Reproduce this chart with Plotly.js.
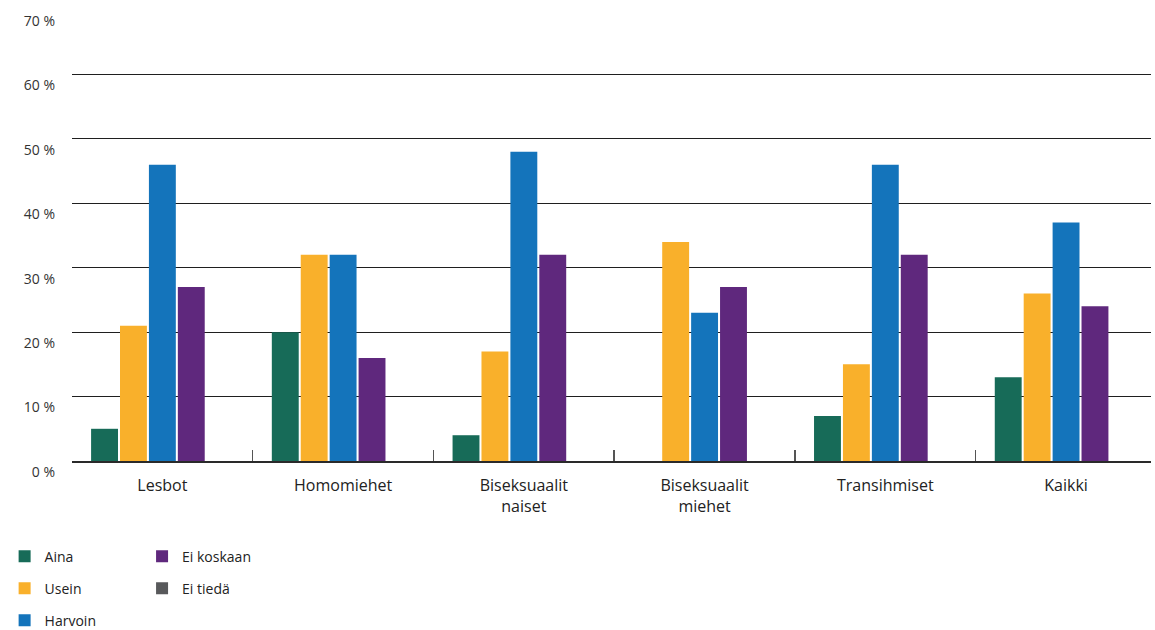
<!DOCTYPE html>
<html>
<head>
<meta charset="utf-8">
<script src="https://cdn.plot.ly/plotly-3.0.1.min.js"></script>
<style>html,body{margin:0;padding:0;background:#fff;}#chart{width:1155px;height:630px;}</style>
</head>
<body>
<div id="chart"></div>
<script>
const categories = ["Lesbot", "Homomiehet", "Biseksuaalit<br>naiset", "Biseksuaalit<br>miehet", "Transihmiset", "Kaikki"];
const seriesNames = ["Aina", "Usein", "Harvoin", "Ei koskaan", "Ei tiedä"];
const aina      = [5, 20, 4, 0, 7, 13];
const usein     = [21, 32, 17, 34, 15, 26];
const harvoin   = [46, 32, 48, 23, 46, 37];
const eiKoskaan = [27, 16, 32, 27, 32, 24];
const eiTieda   = [0, 0, 0, 0, 0, 0];
const yTickVals = [0, 10, 20, 30, 40, 50, 60, 70];
const yTickText = ["0 %", "10 %", "20 %", "30 %", "40 %", "50 %", "60 %", "70 %"];

const colors = ["#176b58", "#f9b02b", "#1474bb", "#5f287d", "#58595b"];
const values = [aina, usein, harvoin, eiKoskaan, eiTieda];
const legendOf = ["legend", "legend", "legend", "legend2", "legend2"];

const traces = seriesNames.map((name, i) => ({
  type: "bar",
  name: name,
  x: categories,
  y: values[i],
  marker: {color: colors[i]},
  legend: legendOf[i],
  legendgroup: "g" + i,
  hoverinfo: "name+y"
}));

const font = {family: "Open Sans, sans-serif", color: "#333333"};

const layout = {
  width: 1155,
  height: 630,
  margin: {l: 72, r: 4, t: 9.5, b: 169, autoexpand: false},
  paper_bgcolor: "#ffffff",
  plot_bgcolor: "#ffffff",
  font: font,
  barmode: "group",
  bargap: 0.2,
  bargroupgap: 0.07,
  showlegend: true,
  xaxis: {
    type: "category",
    range: [-0.5, 5.47],
    showgrid: false,
    zeroline: false,
    showline: true,
    linecolor: "#2a2a2a",
    linewidth: 1.8,
    ticks: "inside",
    tickson: "boundaries",
    ticklen: 11,
    tickwidth: 1.5,
    tickcolor: "#555555",
    tickfont: {family: "Open Sans, sans-serif", size: 16, color: "#222222"},
    ticklabelstandoff: 9
  },
  yaxis: {
    range: [0, 70],
    tickvals: yTickVals,
    ticktext: yTickText,
    showgrid: true,
    gridcolor: "#1f1f1f",
    gridwidth: 1.2,
    zeroline: false,
    showline: false,
    ticks: "",
    tickfont: {family: "Open Sans, sans-serif", size: 14, color: "#333333"},
    ticklabelstandoff: 16,
    ticklabelshift: 11
  },
  legend: {
    xref: "container", yref: "container",
    x: 0.004, y: 0.142, xanchor: "left", yanchor: "top",
    orientation: "v",
    font: {family: "Open Sans, sans-serif", size: 14, color: "#222222"},
    tracegroupgap: 10.8,
    bgcolor: "rgba(0,0,0,0)"
  },
  legend2: {
    xref: "container", yref: "container",
    x: 0.123, y: 0.142, xanchor: "left", yanchor: "top",
    orientation: "v",
    font: {family: "Open Sans, sans-serif", size: 14, color: "#222222"},
    tracegroupgap: 10.8,
    bgcolor: "rgba(0,0,0,0)"
  }
};

Plotly.newPlot("chart", traces, layout, {displayModeBar: false, staticPlot: true});
</script>
</body>
</html>
